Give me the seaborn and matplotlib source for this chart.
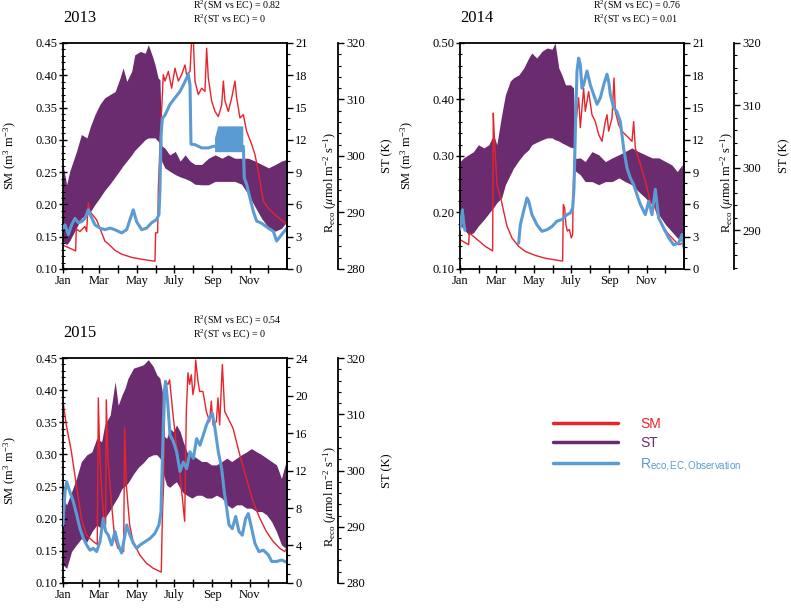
import matplotlib
matplotlib.use("Agg")
import matplotlib.pyplot as plt
import seaborn as sns
from matplotlib.lines import Line2D
from matplotlib.ticker import MultipleLocator

sns.set_style("ticks", rc={"axes.edgecolor": "black", "xtick.color": "black",
                           "ytick.color": "black", "text.color": "black",
                           "axes.labelcolor": "black"})
plt.rcParams["font.family"] = ["Liberation Serif", "DejaVu Serif"]
plt.rcParams["mathtext.fontset"] = "stix"

RED = "#e8232b"
PURPLE = "#6b2c6f"
BLUE = "#5b9bd3"

month_days = [0, 31, 59, 90, 120, 151, 181, 212, 243, 273, 304, 334]
month_labels = ["Jan", "", "Mar", "", "May", "", "July", "", "Sep", "", "Nov", ""]

# ---------------- 2013 ----------------
sm13_days = [0, 20.6, 21.7, 27.7, 35.9, 38.6, 41.3, 44, 54.9, 68.4,
             73.9, 84.7, 95.6, 111.9, 128.2, 149.9, 151, 154.3, 155.4, 158.6,
             163.5, 166.2, 171.7, 177.1, 182.5, 188, 193.4, 198.8, 201.5, 207,
             209.7, 212.4, 215.1, 220.5, 226, 231.4, 234.1, 236.8, 242.3, 247.7,
             253.1, 258.6, 261.3, 264, 269.4, 274.9, 280.3, 283, 288.4, 293.9,
             299.3, 307.5, 312.9, 318.3, 326.5, 334.6, 345.5, 365]
sm13 = [0.137, 0.128, 0.162, 0.158, 0.166, 0.158, 0.202, 0.189, 0.176, 0.143,
        0.139, 0.129, 0.123, 0.118, 0.115, 0.112, 0.156, 0.156, 0.225, 0.303,
        0.401, 0.391, 0.406, 0.380, 0.411, 0.391, 0.401, 0.416, 0.401, 0.406,
        0.455, 0.455, 0.391, 0.370, 0.380, 0.375, 0.442, 0.396, 0.360, 0.344,
        0.336, 0.354, 0.391, 0.360, 0.344, 0.365, 0.391, 0.365, 0.334, 0.339,
        0.313, 0.293, 0.277, 0.251, 0.205, 0.194, 0.184, 0.169]

reco13_days = [0, 3.3, 8.7, 14.1, 19.6, 25, 30.4, 35.9, 41.3, 45.6,
               52.1, 60.3, 68.4, 76.6, 84.7, 95.6, 103.8, 109.2, 114.6, 120,
               128.2, 136.3, 144.5, 152.6, 156.4, 158.1, 159.7, 161.9, 166.2, 174.4,
               182.5, 190.7, 198.8, 204.2, 207, 208.6, 215.1, 226, 236.8, 245,
               270, 293.9, 295.5, 299.3, 304.7, 310.2, 315.6, 323.7, 334.6, 342.8,
               348.2, 356.3, 365]
reco13 = [3.8, 4.1, 3.2, 4.1, 4.7, 4.3, 4.4, 4.7, 5.5, 4.9,
          4.1, 3.8, 3.65, 3.8, 3.65, 3.35, 3.65, 4.6, 5.5, 4.4,
          3.65, 3.8, 4.3, 4.6, 5.05, 7.5, 12.2, 14.0, 14.3, 15.3,
          15.9, 16.5, 17.4, 18.1, 17.1, 11.6, 11.55, 11.25, 11.25, 11.4,
          11.4, 11.4, 8.45, 7.85, 6.6, 5.35, 4.45, 4.25, 3.8, 3.5,
          2.6, 3.2, 3.8]
# oscillating block of the 2013 observations (Sep-Oct)
reco13_box_days = [247, 252, 293]
reco13_box_lo = [10.9, 10.9, 10.9]
reco13_box_hi = [12.2, 13.3, 13.3]

st13_days = [0, 6, 11, 22, 30, 39, 44, 52, 60, 68, 77, 85, 93, 98, 104, 112,
             117, 126, 134, 139, 145, 150, 155, 158, 161, 166, 174, 183, 191,
             199, 207, 215, 226, 237, 248, 259, 269, 280, 291, 302, 313, 324,
             335, 346, 356, 365]
st13_hi = [298.5, 294.9, 297.3, 300.8, 303.8, 303.2, 305.0, 307.3, 309.1, 310.3,
           310.9, 311.4, 313.8, 315.6, 313.2, 315.0, 317.9, 318.5, 318.2, 319.7,
           317.9, 316.2, 313.8, 313.5, 301.8, 301.4, 300.2, 300.8, 299.1, 300.2,
           299.1, 298.5, 298.5, 299.6, 300.2, 299.6, 300.2, 299.6, 299.6, 299.6,
           299.1, 298.5, 297.9, 298.5, 299.1, 299.4]
st13_lo = [284.9, 284.3, 285.0, 287.3, 289.0, 289.6, 290.0, 291.4, 292.6, 293.9,
           295.1, 296.3, 297.5, 298.3, 299.1, 300.2, 301.0, 302.0, 302.9, 303.2,
           303.2, 303.2, 302.6, 302.0, 299.0, 297.9, 297.3, 296.7, 296.3, 296.0,
           295.6, 295.0, 294.9, 294.9, 295.5, 295.5, 295.5, 295.5, 295.0, 293.2,
           291.0, 288.9, 287.3, 286.7, 287.2, 288.4]

# ---------------- 2014 ----------------
sm14_days = [0, 14.1, 15.2, 25, 41.3, 53.2, 54.3, 56, 60.3, 67.4,
             71.2, 76.6, 84.7, 95.6, 106.5, 122.8, 139.1, 155.4, 167.3, 168.4,
             170.6, 172.7, 174.9, 178.2, 181.4, 183.6, 184.7, 186.9, 189, 193.4,
             196.1, 201.5, 204.2, 209.7, 215.1, 220.5, 226, 231.4, 236.8, 239.6,
             242.3, 247.7, 251, 253.1, 258.6, 264, 269.4, 274.9, 280.3, 283,
             285.7, 293.9, 302, 310.2, 318.3, 323.7, 331.9, 340.1, 345.5, 350.9,
             356.3, 365]
sm14 = [0.152, 0.143, 0.164, 0.155, 0.140, 0.132, 0.376, 0.332, 0.249, 0.221,
        0.202, 0.176, 0.155, 0.140, 0.131, 0.124, 0.119, 0.116, 0.114, 0.214,
        0.208, 0.178, 0.167, 0.170, 0.155, 0.161, 0.249, 0.314, 0.361, 0.403,
        0.350, 0.420, 0.379, 0.414, 0.373, 0.361, 0.338, 0.326, 0.361, 0.373,
        0.344, 0.367, 0.438, 0.379, 0.355, 0.344, 0.338, 0.332, 0.326, 0.361,
        0.314, 0.285, 0.255, 0.220, 0.208, 0.190, 0.173, 0.161, 0.155, 0.149,
        0.143, 0.146]

reco14a_days = [0, 2, 4, 6, 8]
reco14a = [3.7, 4.6, 5.5, 4.3, 3.6]
reco14b_days = [95.6, 98.3, 103.8, 109.2, 112, 117.3, 125.5, 133.6, 141.8, 149.9,
                158.1, 166.2, 174.4, 179.8, 183.6, 185.8, 186.8, 188, 190.7, 193.4,
                196.1, 198.8, 201.5, 207, 212.4, 217.8, 223.3, 228.7, 234.1, 239.6,
                242.3, 245, 250.4, 255.8, 261.3, 266.7, 272.1, 277.6, 283, 288.4,
                293.9, 302, 307.5, 312.9, 318.3, 323.7, 331.9, 340.1, 348.2, 356.3,
                361.8, 365]
reco14b = [2.4, 4.1, 5.4, 6.6, 6.3, 5.05, 4.1, 3.5, 3.65, 3.95,
           4.45, 4.6, 5.05, 5.2, 5.65, 7.5, 9.7, 12.8, 18.4, 19.6,
           19.0, 16.8, 17.1, 18.4, 17.1, 16.2, 15.3, 15.9, 17.1, 18.1,
           17.4, 16.2, 15.0, 14.6, 13.7, 11.2, 9.4, 8.45, 7.85, 6.9,
           6.0, 5.05, 6.3, 5.05, 7.4, 4.75, 3.8, 2.9, 2.25, 2.4,
           3.2, 1.95]

st14_days = [0, 6, 14, 22, 30, 39, 47, 55, 60, 68, 74, 82, 87, 96, 104, 112,
             117, 125, 134, 142, 150, 155, 161, 166, 172, 180, 185, 188, 196,
             204, 215, 226, 237, 248, 259, 269, 280, 291, 302, 313, 324, 335,
             345, 354, 362, 365]
st14_hi = [301.0, 301.6, 302.1, 302.6, 303.7, 303.2, 303.7, 305.3, 303.7, 308.5,
           311.7, 313.9, 314.4, 314.9, 316.0, 317.6, 318.4, 317.6, 318.7, 319.2,
           319.0, 320.0, 316.0, 314.9, 313.3, 313.3, 312.8, 301.5, 301.6, 301.0,
           302.6, 302.1, 301.0, 301.6, 302.1, 302.6, 303.2, 302.6, 302.1, 301.6,
           301.6, 301.0, 300.5, 299.4, 300.5, 297.3]
st14_lo = [290.9, 290.2, 289.3, 289.6, 290.7, 291.7, 292.7, 293.7, 294.4, 295.2,
           297.3, 298.9, 299.9, 301.2, 302.2, 302.9, 303.7, 304.1, 304.5, 304.8,
           304.8, 304.5, 304.3, 304.0, 303.7, 303.3, 303.2, 299.5, 298.9, 297.8,
           297.8, 297.3, 297.8, 297.8, 298.4, 297.8, 297.3, 296.2, 295.2, 294.1,
           292.5, 290.9, 289.8, 288.8, 288.2, 290.9]

# ---------------- 2015 ----------------
sm15_days = [0, 5.4, 13.6, 21.7, 29.9, 38, 48.9, 55.9, 57.6, 59.8,
             62.5, 66.3, 69.5, 70.6, 73.3, 78.8, 84.2, 89.6, 98.9, 100.5,
             103.2, 108.6, 114.1, 124.9, 135.8, 146.7, 160.2, 161.9, 164, 166.2,
             171.1, 173.8, 179.3, 184.7, 190.1, 195.6, 198.3, 201, 203.7, 206.4,
             209.1, 211.8, 214.6, 216.2, 220, 222.7, 228.1, 233.6, 239, 241.7,
             244.4, 249.9, 252.6, 255.3, 259.7, 263.5, 277, 287.9, 298.8, 309.6,
             320.5, 331.4, 342.2, 353.1, 361.2, 365]
sm15 = [0.383, 0.346, 0.305, 0.253, 0.201, 0.175, 0.165, 0.160, 0.388, 0.305,
        0.253, 0.201, 0.191, 0.385, 0.294, 0.227, 0.170, 0.154, 0.149, 0.341,
        0.253, 0.191, 0.165, 0.144, 0.131, 0.123, 0.117, 0.201, 0.253, 0.414,
        0.409, 0.416, 0.362, 0.315, 0.274, 0.222, 0.196, 0.367, 0.427, 0.409,
        0.424, 0.393, 0.409, 0.447, 0.414, 0.398, 0.398, 0.367, 0.351, 0.383,
        0.346, 0.351, 0.388, 0.346, 0.440, 0.367, 0.341, 0.300, 0.263, 0.227,
        0.201, 0.180, 0.165, 0.154, 0.149, 0.154]

reco15_days = [0, 3.3, 6, 11.4, 16.8, 22.3, 27.7, 33.1, 38.6, 44,
               49.4, 54.9, 60.3, 65.7, 69.5, 73.9, 79.3, 84.7, 90.2, 95.6,
               101, 103.8, 109.2, 114.6, 120, 125.5, 133.6, 141.8, 149.9, 156.4,
               159.7, 161.9, 165.1, 167.3, 170.6, 174.4, 179.8, 185.2, 190.7, 196.1,
               201.5, 207, 212.4, 217.8, 223.3, 228.7, 234.1, 239.6, 243.4, 247.7,
               253.1, 258.6, 262.9, 266.7, 270.5, 275.9, 281.4, 286.8, 292.2, 297.7,
               302, 307.5, 312.9, 319.4, 326.5, 334.6, 340.1, 348.2, 356.3, 365]
reco15 = [6.2, 9.7, 10.8, 9.7, 8.7, 7.3, 5.8, 4.8, 4.05, 3.5,
          3.7, 3.35, 4.4, 6.9, 5.5, 5.1, 4.05, 5.5, 4.05, 3.2,
          5.1, 6.2, 5.1, 4.25, 3.7, 4.05, 4.4, 4.75, 5.3, 6.2,
          7.6, 12.9, 20.4, 21.5, 19.3, 15.8, 15.1, 14.0, 11.9, 12.9,
          12.2, 14.0, 13.3, 15.4, 14.7, 15.8, 16.9, 17.7, 18.1, 16.5,
          14.0, 12.2, 9.7, 8.0, 6.2, 5.8, 7.1, 5.5, 5.1, 6.9,
          7.4, 5.8, 4.2, 3.35, 3.5, 3.0, 2.3, 2.3, 2.45, 2.2]

st15_days = [0, 6, 14, 22, 30, 39, 47, 55, 63, 68, 77, 85, 90, 96, 101, 106,
             115, 123, 131, 139, 147, 153, 158, 162, 163, 169, 174, 180, 185,
             191, 196, 202, 210, 218, 226, 234, 242, 250, 259, 267, 275, 283,
             291, 299, 307, 316, 324, 332, 340, 348, 356, 362, 365]
st15_hi = [295.1, 293.9, 296.2, 298.6, 301.6, 302.8, 303.3, 305.7, 305.1, 308.1,
           309.9, 315.8, 311.6, 313.4, 314.6, 316.4, 318.2, 318.5, 318.8, 319.7,
           318.5, 317.0, 316.4, 314.0, 306.3, 305.7, 307.5, 306.9, 308.1, 306.9,
           305.1, 303.3, 302.8, 302.2, 301.6, 301.6, 301.0, 301.0, 301.6, 302.2,
           301.6, 302.2, 302.8, 303.3, 303.9, 303.3, 302.8, 302.2, 301.6, 301.0,
           298.6, 301.0, 301.6]
st15_lo = [283.2, 282.6, 285.6, 286.8, 287.9, 287.3, 289.1, 290.3, 289.7, 291.5,
           293.0, 294.5, 295.4, 296.8, 297.2, 297.8, 299.4, 300.6, 301.4, 302.4,
           302.8, 302.8, 302.2, 301.2, 299.5, 297.4, 297.0, 297.6, 298.0, 296.8,
           296.0, 295.6, 295.1, 295.6, 295.6, 295.1, 295.1, 295.6, 295.1, 293.9,
           293.3, 293.9, 293.9, 293.3, 293.3, 292.7, 292.7, 292.1, 290.9, 289.1,
           286.8, 286.2, 287.9]

r2_text = {2013: ("0.82", "0"), 2014: ("0.76", "0.01"), 2015: ("0.54", "0")}

FS = 9


def panel(fig, rect, year, sm_days, sm, st_days, st_lo, st_hi, reco_parts,
          sm_lim, sm_major, sm_minor, reco_lim, reco_major, st_lim, st_pos,
          r2_x, box=None):
    ax = fig.add_axes(rect)
    ax_r = ax.twinx()
    ax_t = ax.twinx()
    # purple underneath, red in the middle, blue on top
    ax_t.set_zorder(1)
    ax.set_zorder(2)
    ax_r.set_zorder(3)
    ax.patch.set_visible(False)
    ax_r.patch.set_visible(False)
    ax_t.patch.set_visible(True)
    ax_t.patch.set_facecolor("white")

    ax_t.fill_between(st_days, st_lo, st_hi, color=PURPLE, lw=0)
    sns.lineplot(x=sm_days, y=sm, ax=ax, color=RED, lw=1.0,
                 estimator=None, sort=False)
    if box is not None:
        ax_r.fill_between(box[0], box[1], box[2], color=BLUE, lw=0)
    for d, v in reco_parts:
        sns.lineplot(x=d, y=v, ax=ax_r, color=BLUE, lw=2.2,
                     estimator=None, sort=False)

    for a in (ax, ax_r, ax_t):
        a.set_xlim(0, 365)
    ax.set_ylim(*sm_lim)
    ax_r.set_ylim(*reco_lim)
    ax_t.set_ylim(*st_lim)

    ax.set_xticks(month_days)
    ax.set_xticklabels(month_labels)
    ax.yaxis.set_major_locator(MultipleLocator(sm_major))
    ax.yaxis.set_minor_locator(MultipleLocator(sm_minor))
    ax.yaxis.set_major_formatter(plt.FormatStrFormatter("%.2f"))
    ax_r.yaxis.set_major_locator(MultipleLocator(reco_major))
    ax_r.yaxis.set_minor_locator(MultipleLocator(1))
    ax_t.yaxis.set_major_locator(MultipleLocator(10))
    ax_t.yaxis.set_minor_locator(MultipleLocator(2))

    for s in ax.spines.values():
        s.set_linewidth(1.3)
        s.set_visible(True)
    for side in ("left", "top", "bottom"):
        ax_r.spines[side].set_visible(False)
        ax_t.spines[side].set_visible(False)
    ax_r.spines["right"].set_linewidth(1.3)
    ax_t.spines["right"].set_linewidth(1.3)
    ax_t.spines["right"].set_position(("axes", st_pos))

    ax.tick_params(axis="both", which="major", direction="inout", length=6,
                   width=1, labelsize=FS, top=False, right=False, pad=1)
    ax.tick_params(axis="y", which="minor", direction="inout", length=3.5,
                   width=0.8)
    ax.tick_params(axis="x", which="minor", bottom=False)
    for a in (ax_r, ax_t):
        a.tick_params(axis="y", which="major", direction="out", length=4,
                      width=1, labelsize=FS, pad=2)
        a.tick_params(axis="y", which="minor", direction="out", length=2.5,
                      width=0.8)

    ax.set_xlabel("")
    ax.set_ylabel(r"SM (m$^\mathregular{3}$ m$^\mathregular{-3}$)", fontsize=FS)
    ax.yaxis.set_label_coords(-0.196, 0.5)
    ax_r.set_ylabel(r"R$_\mathregular{eco}$ ($\mu$mol m$^\mathregular{-2}$ s$^\mathregular{-1}$)",
                    fontsize=FS)
    ax_r.yaxis.set_label_coords(1.156, 0.385)
    ax_t.set_ylabel("ST (K)", fontsize=FS)
    ax_t.yaxis.set_label_coords(1.42, 0.5)

    ax.text(0.0, 1.075, str(year), transform=ax.transAxes, fontsize=12,
            ha="left", va="bottom")
    r_sm, r_st = r2_text[year]
    ax.text(r2_x, 1.165, r"R$^\mathregular{2}$(SM vs EC) = " + r_sm,
            transform=ax.transAxes, fontsize=7.2, ha="left", va="center")
    ax.text(r2_x, 1.103, r"R$^\mathregular{2}$(ST vs EC) = " + r_st,
            transform=ax.transAxes, fontsize=7.2, ha="left", va="center")
    return ax


fig = plt.figure(figsize=(7.91, 6.14), dpi=100)

panel(fig, [0.0796, 0.5619, 0.2832, 0.3681], 2013, sm13_days, sm13,
      st13_days, st13_lo, st13_hi, [(reco13_days, reco13)],
      (0.10, 0.45), 0.05, 0.01, (0, 21), 3, (280, 320), 1.228, 0.58,
      box=(reco13_box_days, reco13_box_lo, reco13_box_hi))

panel(fig, [0.5815, 0.5619, 0.2832, 0.3681], 2014, sm14_days, sm14,
      st14_days, st14_lo, st14_hi,
      [(reco14a_days, reco14a), (reco14b_days, reco14b)],
      (0.10, 0.50), 0.10, 0.02, (0, 21), 3, (283.8, 320), 1.223, 0.594)

panel(fig, [0.0796, 0.0505, 0.2832, 0.3664], 2015, sm15_days, sm15,
      st15_days, st15_lo, st15_hi, [(reco15_days, reco15)],
      (0.10, 0.45), 0.05, 0.01, (0, 24), 4, (280, 320), 1.228, 0.58)

handles = [Line2D([], [], color=RED, lw=2.5),
           Line2D([], [], color=PURPLE, lw=2.5),
           Line2D([], [], color=BLUE, lw=2.5)]
labels = ["SM", "ST", r"R$_\mathregular{eco,EC,Observation}$"]
fig.legend(handles, labels, loc="upper left", bbox_to_anchor=(0.683, 0.342),
           frameon=False, labelcolor="linecolor", handlelength=4.7,
           handletextpad=1.6, labelspacing=0.42,
           prop={"family": ["Liberation Sans", "DejaVu Sans"], "size": 10})

fig.savefig("out.png", dpi=100)
